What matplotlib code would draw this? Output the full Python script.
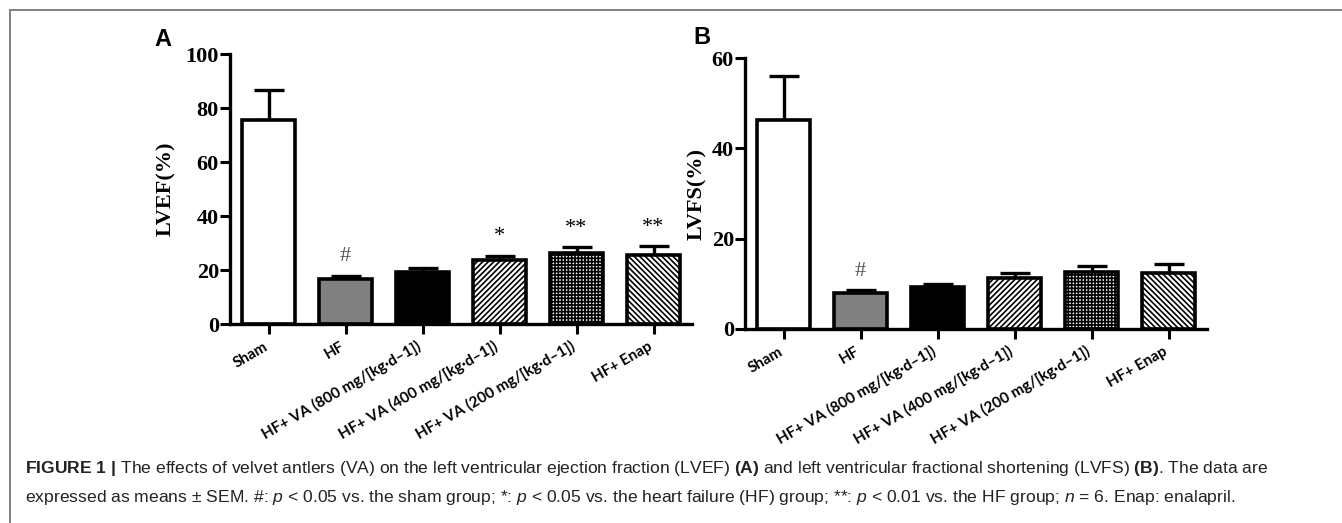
import matplotlib
matplotlib.use("Agg")
import matplotlib.pyplot as plt
from matplotlib.lines import Line2D
import numpy as np

GROUPS = ["Sham", "HF", "HF+ VA (800 mg/[kg·d–1])", "HF+ VA (400 mg/[kg·d–1])",
          "HF+ VA (200 mg/[kg·d–1])", "HF+ Enap"]

LVEF_MEAN = [75.5, 16.7, 19.1, 23.7, 26.2, 25.6]
LVEF_SEM = [11.0, 1.2, 1.5, 1.6, 2.2, 3.2]
LVEF_MARK = ["", "#", "", "*", "**", "**"]

LVFS_MEAN = [46.2, 8.0, 9.3, 11.3, 12.7, 12.3]
LVFS_SEM = [9.9, 0.6, 0.6, 1.1, 1.2, 2.1]
LVFS_MARK = ["", "#", "", "", "", ""]

FACES = ["white", "#808080", "black", "white", "white", "white"]
HATCHES = [None, None, None, "//////", "+++++", "\\\\\\\\\\\\"]

plt.rcParams["hatch.linewidth"] = 1.2
plt.rcParams["mathtext.fontset"] = "custom"
plt.rcParams["mathtext.rm"] = "Liberation Sans"
plt.rcParams["mathtext.bf"] = "Liberation Sans:bold"
plt.rcParams["mathtext.it"] = "Liberation Sans:italic"

W, H = 1342, 523
fig = plt.figure(figsize=(W / 100, H / 100), dpi=100)


def panel(rect, means, sems, marks, ylim, yticks, ylabel, letter, letter_xy, ylab_x):
    ax = fig.add_axes(rect)
    x = np.arange(len(GROUPS))
    ax.errorbar(x, means, yerr=[np.zeros(len(sems)), sems], fmt="none",
                ecolor="black", elinewidth=2.4, capsize=11, capthick=2.4, zorder=1)
    for xi, m, fc, h in zip(x, means, FACES, HATCHES):
        ax.bar(xi, m, width=0.69, color=fc, edgecolor="black", linewidth=2.6,
               hatch=h, zorder=2)
    for xi, m, s, t in zip(x, means, sems, marks):
        if not t:
            continue
        col = "#555555" if t == "#" else "black"
        ax.text(xi, m + s + (ylim[1] * 0.035), t, ha="center", va="bottom",
                family="Liberation Serif", fontsize=16, color=col)
    ax.set_xlim(-0.5, 5.5)
    ax.set_ylim(*ylim)
    ax.set_yticks(yticks)
    ax.set_xticks(x)
    ax.set_xticklabels(GROUPS, family="Lato", fontweight="bold", fontsize=11)
    plt.setp(ax.get_xticklabels(), rotation=30, ha="right", va="baseline",
             rotation_mode="anchor")
    for lab in ax.get_yticklabels():
        lab.set_family("Liberation Serif")
        lab.set_fontweight("bold")
        lab.set_fontsize(16)
    ax.tick_params(axis="both", direction="out", length=7, width=2.2)
    ax.tick_params(axis="x", pad=11)
    ax.tick_params(axis="y", pad=1)
    for s in ["top", "right"]:
        ax.spines[s].set_visible(False)
    for s in ["left", "bottom"]:
        ax.spines[s].set_linewidth(2.4)
    fig.text(ylab_x / W, (rect[1] + rect[3] / 2), ylabel, rotation=90,
             ha="center", va="center", family="Liberation Serif",
             fontweight="bold", fontsize=16)
    fig.text(letter_xy[0] / W, 1 - letter_xy[1] / H, letter, ha="center",
             va="center", family="Liberation Sans", fontweight="bold", fontsize=17)
    return ax


panel([230 / W, 1 - 324 / H, 462 / W, 270 / H], LVEF_MEAN, LVEF_SEM, LVEF_MARK,
      (0, 100), [0, 20, 40, 60, 80, 100], "LVEF(%)", "A", (163, 40), 166)
panel([745 / W, 1 - 329 / H, 462 / W, 271 / H], LVFS_MEAN, LVFS_SEM, LVFS_MARK,
      (0, 60), [0, 20, 40, 60], "LVFS(%)", "B", (702, 38), 697)

# frame lines of the figure box
fig.add_artist(Line2D([9.5 / W, 9.5 / W], [0, 1 - 10 / H], color="#777777", lw=1.3))
fig.add_artist(Line2D([9.5 / W, 1], [1 - 10 / H, 1 - 10 / H], color="#777777", lw=1.3))

cap_font = ["Liberation Sans", "DejaVu Sans"]
line1 = (r"$\mathbf{FIGURE\ 1\ |}$ The effects of velvet antlers (VA) on the left "
         r"ventricular ejection fraction (LVEF) $\mathbf{(A)}$ and left ventricular "
         r"fractional shortening (LVFS) $\mathbf{(B)}$. The data are")
line2 = (r"expressed as means ± SEM. #: $\mathit{p}$ < 0.05 vs. the sham group; *: "
         r"$\mathit{p}$ < 0.05 vs. the heart failure (HF) group; **: $\mathit{p}$ < 0.01 "
         r"vs. the HF group; $\mathit{n}$ = 6. Enap: enalapril.")
fig.text(25 / W, 1 - 473 / H, line1, family=cap_font, fontsize=12.6, color="#222222",
         va="baseline")
fig.text(25 / W, 1 - 502 / H, line2, family=cap_font, fontsize=12.6, color="#222222",
         va="baseline")

fig.savefig("out.png", dpi=100)
